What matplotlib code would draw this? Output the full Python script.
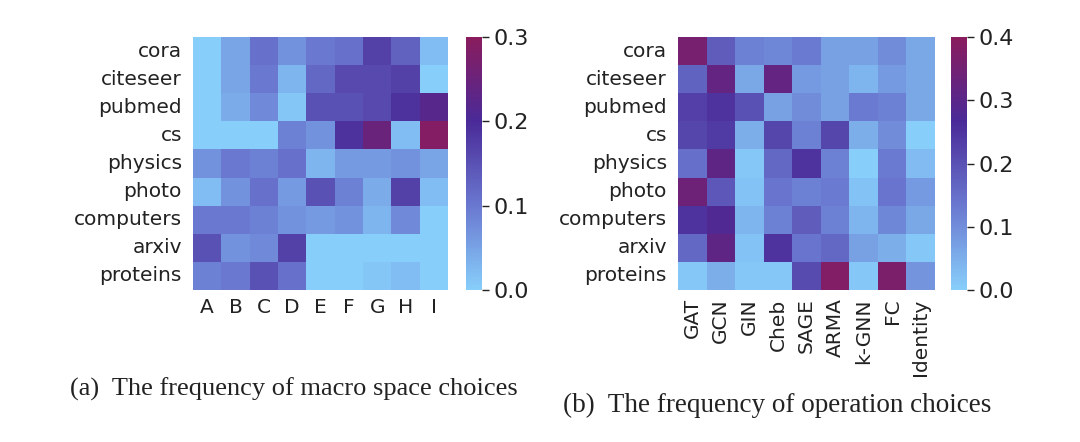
import numpy as np
import matplotlib
matplotlib.use("Agg")
import matplotlib.pyplot as plt
import seaborn as sns
from matplotlib.colors import LinearSegmentedColormap

datasets = ["cora", "citeseer", "pubmed", "cs", "physics", "photo",
            "computers", "arxiv", "proteins"]
macro_labels = ["A", "B", "C", "D", "E", "F", "G", "H", "I"]
op_labels = ["GAT", "GCN", "GIN", "Cheb", "SAGE", "ARMA", "k-GNN", "FC", "Identity"]

macro_freq = np.array([
    [0.00, 0.05, 0.11, 0.07, 0.10, 0.11, 0.17, 0.13, 0.02],
    [0.00, 0.05, 0.10, 0.03, 0.12, 0.16, 0.16, 0.17, 0.00],
    [0.00, 0.04, 0.08, 0.01, 0.15, 0.15, 0.16, 0.19, 0.22],
    [0.00, 0.00, 0.00, 0.09, 0.07, 0.19, 0.25, 0.02, 0.29],
    [0.07, 0.10, 0.09, 0.11, 0.03, 0.06, 0.06, 0.07, 0.05],
    [0.02, 0.07, 0.11, 0.06, 0.15, 0.09, 0.04, 0.17, 0.02],
    [0.10, 0.10, 0.09, 0.07, 0.06, 0.07, 0.03, 0.08, 0.00],
    [0.15, 0.07, 0.08, 0.17, 0.00, 0.00, 0.00, 0.00, 0.00],
    [0.09, 0.10, 0.15, 0.11, 0.00, 0.00, 0.01, 0.02, 0.00],
])

op_freq = np.array([
    [0.36, 0.18, 0.12, 0.11, 0.13, 0.07, 0.07, 0.10, 0.06],
    [0.17, 0.32, 0.06, 0.32, 0.08, 0.07, 0.04, 0.08, 0.06],
    [0.23, 0.25, 0.20, 0.07, 0.10, 0.07, 0.13, 0.12, 0.06],
    [0.22, 0.24, 0.05, 0.22, 0.12, 0.22, 0.05, 0.10, 0.00],
    [0.15, 0.31, 0.01, 0.16, 0.25, 0.12, 0.00, 0.13, 0.03],
    [0.34, 0.19, 0.02, 0.14, 0.12, 0.13, 0.02, 0.14, 0.08],
    [0.25, 0.28, 0.04, 0.12, 0.18, 0.12, 0.04, 0.11, 0.06],
    [0.16, 0.31, 0.02, 0.25, 0.14, 0.16, 0.07, 0.05, 0.01],
    [0.01, 0.05, 0.01, 0.01, 0.21, 0.38, 0.01, 0.37, 0.09],
])

cmap = LinearSegmentedColormap.from_list(
    "skyplum", ["#87cefa", "#6a78d0", "#4a2a98", "#8a1c5e"], N=256)

fig = plt.figure(figsize=(10.8, 4.42), dpi=100)
plt.rcParams['font.family'] = ['DejaVu Sans']

W, H = 1080, 442


def box(x0, y0, x1, y1):
    return [x0 / W, 1 - y1 / H, (x1 - x0) / W, (y1 - y0) / H]


ax1 = fig.add_axes(box(193, 37, 448, 290))
cax1 = fig.add_axes(box(466, 37, 482, 290))
ax2 = fig.add_axes(box(678, 37, 935, 290))
cax2 = fig.add_axes(box(951, 37, 967, 290))

sns.heatmap(macro_freq, ax=ax1, cbar_ax=cax1, cmap=cmap, vmin=0, vmax=0.3,
            xticklabels=macro_labels, yticklabels=datasets)
sns.heatmap(op_freq, ax=ax2, cbar_ax=cax2, cmap=cmap, vmin=0, vmax=0.4,
            xticklabels=op_labels, yticklabels=datasets)

for ax in (ax1, ax2):
    ax.tick_params(axis='both', length=0, labelsize=14.5, colors='#222222')
    ax.tick_params(axis='y', pad=8)
    ax.tick_params(axis='x', pad=6)
    ax.set_yticklabels(datasets, rotation=0)
ax1.set_xticklabels(macro_labels, rotation=0)
ax2.set_xticklabels(op_labels, rotation=90)

cax1.set_yticks([0.0, 0.1, 0.2, 0.3])
cax2.set_yticks([0.0, 0.1, 0.2, 0.3, 0.4])
for cax in (cax1, cax2):
    cax.tick_params(labelsize=16, length=5, width=1, colors='#222222')
    for s in cax.spines.values():
        s.set_visible(False)

fig.text(294 / W, 1 - 389 / H, "(a)  The frequency of macro space choices",
         ha='center', va='center', fontsize=19, family='Liberation Serif',
         color='#222222')
fig.text(777 / W, 1 - 405 / H, "(b)  The frequency of operation choices",
         ha='center', va='center', fontsize=19.5, family='Liberation Serif',
         color='#222222')

fig.savefig("out.png", dpi=100)
